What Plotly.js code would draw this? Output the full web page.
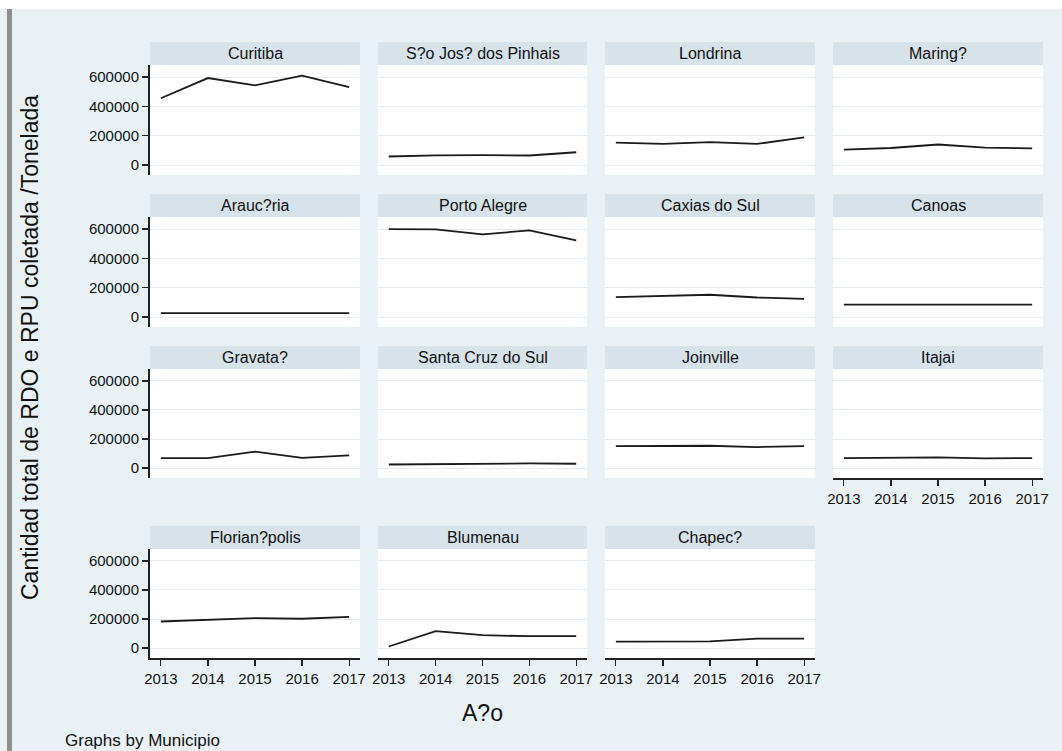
<!DOCTYPE html>
<html>
<head>
<meta charset="utf-8">
<script src="https://cdn.plot.ly/plotly-3.0.1.min.js"></script>
<style>html,body{margin:0;padding:0;background:#fff;}#chart{width:1062px;height:751px;}</style>
</head>
<body>
<div id="chart"></div>
<script>
// ---- data ----
var years = [2013, 2014, 2015, 2016, 2017];
var yearLabels = ["2013", "2014", "2015", "2016", "2017"];
var yTicks = [0, 200000, 400000, 600000];
var yTickLabels = ["0", "200000", "400000", "600000"];
var municipios = ["Curitiba", "S?o Jos? dos Pinhais", "Londrina", "Maring?",
  "Arauc?ria", "Porto Alegre", "Caxias do Sul", "Canoas",
  "Gravata?", "Santa Cruz do Sul", "Joinville", "Itajai",
  "Florian?polis", "Blumenau", "Chapec?"];
var curitiba      = [455000, 593000, 543000, 609000, 531000];
var saoJose       = [58000, 66000, 67000, 65000, 87000];
var londrina      = [153000, 144000, 156000, 144000, 188000];
var maringa       = [105000, 116000, 140000, 119000, 114000];
var araucaria     = [26000, 25000, 27000, 26000, 26000];
var portoAlegre   = [600000, 598000, 563000, 591000, 522000];
var caxias        = [136000, 143000, 152000, 133000, 124000];
var canoas        = [85000, 85000, 81000, 80000, 85000];
var gravatai      = [69000, 69000, 113000, 71000, 87000];
var santaCruz     = [25000, 28000, 32000, 32000, 30000];
var joinville     = [152000, 152000, 154000, 145000, 152000];
var itajai        = [69000, 69000, 74000, 67000, 69000];
var florianopolis = [183000, 195000, 206000, 202000, 215000];
var blumenau      = [11000, 117000, 89000, 82000, 82000];
var chapeco       = [44000, 44000, 46000, 66000, 66000];
var seriesList = [curitiba, saoJose, londrina, maringa, araucaria, portoAlegre, caxias, canoas,
  gravatai, santaCruz, joinville, itajai, florianopolis, blumenau, chapeco];

// ---- layout geometry (pixels) ----
var W = 1062, H = 751;
function px(x) { return x / W; }
function py(y) { return 1 - y / H; }
var colX = [[150, 360], [378, 587], [605, 815], [833, 1043]];
var rowY = [[65, 175], [217, 327], [369, 478], [549, 658]];
var headerH = 23;
var bottomPanels = [11, 12, 13, 14];

var font = "Liberation Sans, Arial, Helvetica, sans-serif";
var tickFont = {family: font, size: 15, color: "#111"};

var traces = [];
var layout = {
  width: W, height: H,
  margin: {l: 0, r: 0, t: 0, b: 0},
  paper_bgcolor: "#EAF1F4",
  plot_bgcolor: "#FFFFFF",
  showlegend: false,
  shapes: [
    {type: "rect", xref: "paper", yref: "paper", x0: 0, x1: 1, y0: py(9), y1: 1, fillcolor: "#FFFFFF", line: {width: 0}, layer: "below"},
    {type: "rect", xref: "paper", yref: "paper", x0: px(7), x1: px(12), y0: 0, y1: py(9), fillcolor: "#8E8E8E", line: {width: 0}, layer: "below"}
  ],
  annotations: []
};

for (var i = 0; i < municipios.length; i++) {
  var r = Math.floor(i / 4), c = i % 4;
  var n = i + 1;
  var xa = "x" + (n === 1 ? "" : n), ya = "y" + (n === 1 ? "" : n);
  traces.push({
    x: years, y: seriesList[i], xaxis: xa, yaxis: ya,
    type: "scatter", mode: "lines",
    line: {color: "#1a1a1a", width: 1.8},
    hoverinfo: "x+y"
  });
  var isBottom = bottomPanels.indexOf(i) >= 0;
  var isLeft = c === 0;
  layout["xaxis" + (n === 1 ? "" : n)] = {
    domain: [px(colX[c][0]), px(colX[c][1])],
    anchor: ya,
    range: [2012.77, 2017.23],
    tickvals: years, ticktext: yearLabels,
    showgrid: false, zeroline: false,
    showticklabels: isBottom,
    ticks: isBottom ? "outside" : "",
    ticklen: 6, tickwidth: 1.3, tickcolor: "#222",
    showline: isBottom, linecolor: "#222", linewidth: 2,
    tickfont: tickFont
  };
  layout["yaxis" + (n === 1 ? "" : n)] = {
    domain: [py(rowY[r][1]), py(rowY[r][0])],
    anchor: xa,
    range: [-68000, 682000],
    tickvals: yTicks, ticktext: yTickLabels,
    showgrid: true, gridcolor: "#E5EAED", gridwidth: 1,
    zeroline: false,
    showticklabels: isLeft,
    ticks: isLeft ? "outside" : "",
    ticklen: 6, tickwidth: 1.3, tickcolor: "#222",
    showline: isLeft, linecolor: "#222", linewidth: 2,
    tickfont: tickFont
  };
  // header strip
  layout.shapes.push({
    type: "rect", xref: "paper", yref: "paper",
    x0: px(colX[c][0]), x1: px(colX[c][1]),
    y0: py(rowY[r][0]), y1: py(rowY[r][0] - headerH),
    fillcolor: "#D7E2E9", line: {width: 0}
  });
  layout.annotations.push({
    xref: "paper", yref: "paper",
    x: px((colX[c][0] + colX[c][1]) / 2), y: py(rowY[r][0] - headerH / 2),
    xanchor: "center", yanchor: "middle", showarrow: false,
    text: municipios[i], font: {family: font, size: 16, color: "#111"}
  });
}

layout.annotations.push({
  xref: "paper", yref: "paper", x: px(30), y: py(348),
  xanchor: "center", yanchor: "middle", showarrow: false, textangle: -90,
  text: "Cantidad total de RDO e RPU coletada /Tonelada",
  font: {family: font, size: 23, color: "#111"}
});
layout.annotations.push({
  xref: "paper", yref: "paper", x: px(482), y: py(713),
  xanchor: "center", yanchor: "middle", showarrow: false,
  text: "A?o", font: {family: font, size: 23, color: "#111"}
});
layout.annotations.push({
  xref: "paper", yref: "paper", x: px(63), y: py(740),
  xanchor: "left", yanchor: "middle", showarrow: false,
  text: "Graphs by Municipio", font: {family: font, size: 17, color: "#111"}
});

Plotly.newPlot("chart", traces, layout, {displayModeBar: false, staticPlot: true});
</script>
</body>
</html>
